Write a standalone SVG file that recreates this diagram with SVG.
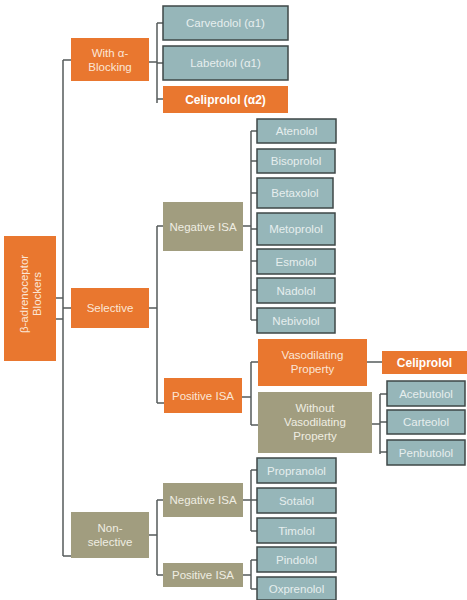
<svg xmlns="http://www.w3.org/2000/svg" width="467" height="600" viewBox="0 0 467 600">
<style>
.o{fill:#E9772F}
.t{fill:#96B6B9;stroke:#3E4747;stroke-width:1.5}
.v{fill:#A19D7F}
text{font-family:"Liberation Sans",Arial,sans-serif;font-size:11.5px;text-anchor:middle;dominant-baseline:central}
.ot{fill:#FBE6D6}
.tt{fill:#E6EEEE}
.vt{fill:#EFEDE2}
.b{font-weight:bold;fill:#FFFFFF;font-size:12px}
#connectors path{fill:none;stroke:#555B5B;stroke-width:1.5}
</style>
<rect width="467" height="600" fill="#FFFFFF"/>
<g id="connectors">
<path d="M56 298H63M56 319H63M63 60V556"/>
<path d="M63 60H71M63 308H71M63 556H71"/>
<path d="M149 62H157M157 23V103M157 23H163M157 63H163M157 99H163"/>
<path d="M149 308H157M157 226V403M157 226H163M157 403H164"/>
<path d="M243 226H251M251 131V320M251 131H257M251 161H257M251 193H257M251 229H257M251 261H257M251 290H257M251 320H257"/>
<path d="M242 397H251M251 362V425M251 362H258M251 425H258"/>
<path d="M367 362H382"/>
<path d="M372 424H380M380 394V454M380 394H387M380 422H387M380 452H387"/>
<path d="M149 535H157M157 500V575M157 500H163M157 575H163"/>
<path d="M243 500H251M251 470V531M251 470H257M251 500H257M251 531H257"/>
<path d="M243 575H251M251 560V589M251 560H257M251 589H257"/>
</g>
<g id="root"><rect class="o" x="4" y="236" width="52" height="125"/><text class="ot" transform="translate(30 294) rotate(-90)"><tspan x="0" y="-6">β-adrenoceptor</tspan><tspan x="0" y="7">Blockers</tspan></text></g>
<g id="with-alpha"><rect class="o" x="71" y="38" width="78" height="43"/><text class="ot"><tspan x="110" y="53">With α-</tspan><tspan x="110" y="67">Blocking</tspan></text></g>
<g id="carvedolol"><rect class="t" x="163" y="6" width="125" height="34"/><text class="tt" x="225.5" y="23">Carvedolol (α1)</text></g>
<g id="labetolol"><rect class="t" x="163" y="46" width="125" height="34"/><text class="tt" x="225.5" y="63">Labetolol (α1)</text></g>
<g id="celiprolol-a2"><rect class="o" x="163" y="86" width="125" height="27"/><text class="b" x="225.5" y="99.5">Celiprolol (α2)</text></g>
<g id="selective"><rect class="o" x="71" y="288" width="78" height="40"/><text class="ot" x="110" y="308">Selective</text></g>
<g id="neg-isa-sel"><rect class="v" x="163" y="202" width="80" height="49"/><text class="vt" x="203" y="226.5">Negative ISA</text></g>
<g id="atenolol"><rect class="t" x="257" y="119" width="79" height="24"/><text class="tt" x="296.5" y="131">Atenolol</text></g>
<g id="bisoprolol"><rect class="t" x="257" y="149" width="78" height="24"/><text class="tt" x="296" y="161">Bisoprolol</text></g>
<g id="betaxolol"><rect class="t" x="257" y="178" width="76" height="30"/><text class="tt" x="295" y="193">Betaxolol</text></g>
<g id="metoprolol"><rect class="t" x="257" y="213" width="78" height="32"/><text class="tt" x="296" y="229">Metoprolol</text></g>
<g id="esmolol"><rect class="t" x="257" y="249" width="78" height="25"/><text class="tt" x="296" y="261.5">Esmolol</text></g>
<g id="nadolol"><rect class="t" x="257" y="278" width="78" height="25"/><text class="tt" x="296" y="290.5">Nadolol</text></g>
<g id="nebivolol"><rect class="t" x="257" y="308" width="78" height="25"/><text class="tt" x="296" y="320.5">Nebivolol</text></g>
<g id="pos-isa-sel"><rect class="o" x="164" y="378" width="78" height="35"/><text class="ot" x="203" y="395.5">Positive ISA</text></g>
<g id="vasodilating"><rect class="o" x="258" y="339" width="109" height="47"/><text class="ot"><tspan x="312.5" y="355">Vasodilating</tspan><tspan x="312.5" y="369">Property</tspan></text></g>
<g id="celiprolol"><rect class="o" x="382" y="351" width="85" height="23"/><text class="b" x="424.5" y="362.5">Celiprolol</text></g>
<g id="without-vasodilating"><rect class="v" x="258" y="392" width="114" height="61"/><text class="vt"><tspan x="315" y="408">Without</tspan><tspan x="315" y="422">Vasodilating</tspan><tspan x="315" y="436">Property</tspan></text></g>
<g id="acebutolol"><rect class="t" x="387" y="381" width="78" height="25"/><text class="tt" x="426" y="393.5">Acebutolol</text></g>
<g id="carteolol"><rect class="t" x="387" y="410" width="78" height="24"/><text class="tt" x="426" y="422">Carteolol</text></g>
<g id="penbutolol"><rect class="t" x="387" y="440" width="78" height="25"/><text class="tt" x="426" y="452.5">Penbutolol</text></g>
<g id="non-selective"><rect class="v" x="71" y="512" width="78" height="46"/><text class="vt"><tspan x="110" y="528">Non-</tspan><tspan x="110" y="542">selective</tspan></text></g>
<g id="neg-isa-non"><rect class="v" x="163" y="483" width="80" height="34"/><text class="vt" x="203" y="500">Negative ISA</text></g>
<g id="pos-isa-non"><rect class="v" x="163" y="563" width="80" height="24"/><text class="vt" x="203" y="575">Positive ISA</text></g>
<g id="propranolol"><rect class="t" x="257" y="458" width="79" height="25"/><text class="tt" x="296.5" y="470.5">Propranolol</text></g>
<g id="sotalol"><rect class="t" x="257" y="488" width="79" height="25"/><text class="tt" x="296.5" y="500.5">Sotalol</text></g>
<g id="timolol"><rect class="t" x="257" y="518" width="79" height="25"/><text class="tt" x="296.5" y="530.5">Timolol</text></g>
<g id="pindolol"><rect class="t" x="257" y="547" width="79" height="25"/><text class="tt" x="296.5" y="559.5">Pindolol</text></g>
<g id="oxprenolol"><rect class="t" x="257" y="577" width="79" height="23"/><text class="tt" x="296.5" y="589">Oxprenolol</text></g>
</svg>
